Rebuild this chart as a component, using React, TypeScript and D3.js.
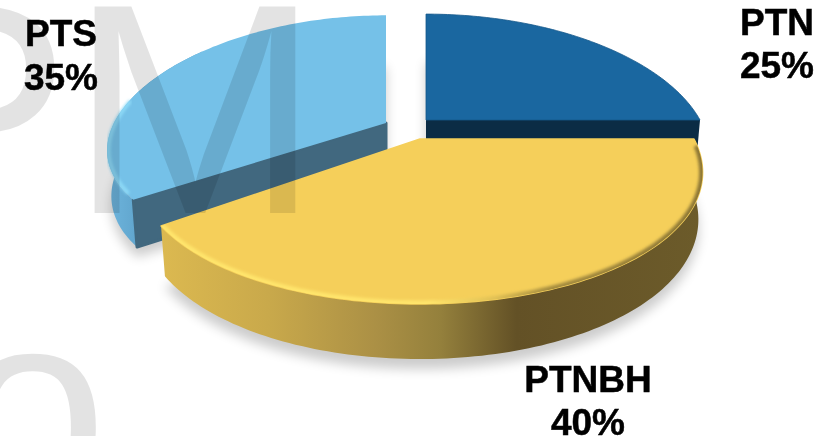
import React from "react";
import * as d3 from "d3";

const categories = ["PTN", "PTNBH", "PTS"];
const shares = [25, 40, 35];
const tickLabels = ["25%", "40%", "35%"];

const W = 831, H = 436;
const DEPTH = 45, BOTTOM_SCALE = 0.985;
const apexes: Record<string, [number, number]> = {
  PTN: [426, 120],
  PTNBH: [420, 139],
  PTS: [386, 123],
};
const persp: Record<string, [number, number, number, number]> = {
  PTN: [0.26, 0.218, 129, 274],
  PTNBH: [0.245, 0.218, 129, 274],
  PTS: [0.22, 0.124, 121, 272],
};
const topFill: Record<string, string> = { PTN: "#1a67a0", PTNBH: "#f5cf5a", PTS: "#75c1e8" };
const cutFill: Record<string, string> = { PTN: "#0b2c45", PTNBH: "#a98e45", PTS: "#41687f" };
const labelPos: Record<string, [number, number, number]> = {
  PTN: [777, 35, 78],
  PTNBH: [588, 392, 435],
  PTS: [61, 46, 90],
};

type Pt = [number, number];
const project = (name: string, a: number, r: number, level: number): Pt => {
  const [ax, ay] = apexes[name];
  const [px, py, ry, rx] = persp[name];
  const u = r * Math.sin(a), v = -r * Math.cos(a);
  const wx = 1 - px * v, wy = 1 - py * v;
  const s = level ? BOTTOM_SCALE : 1;
  return [ax + (rx * s * u) / wx, ay + (ry * s * v) / wy + (level * DEPTH) / wy];
};

const line = d3.line<Pt>().x((d) => d[0]).y((d) => d[1]);
const angles = (a0: number, a1: number) => {
  const n = Math.max(2, Math.ceil(Math.abs(a1 - a0) / 0.02));
  return d3.range(n + 1).map((i) => a0 + ((a1 - a0) * i) / n);
};
const arcPts = (name: string, a0: number, a1: number, level: number, r = 1) =>
  angles(a0, a1).map((a) => project(name, a, r, level));

const pieGen = d3.pie<number>().sort(null);
const arcs = pieGen(shares);
const slices = categories.map((name, i) => ({
  name,
  a0: arcs[i].startAngle,
  a1: arcs[i].endAngle,
  label: tickLabels[i],
}));
const sector = (name: string, a0: number, a1: number, level: number) =>
  line([project(name, 0, 0, level), ...arcPts(name, a0, a1, level)]) + "Z";
const band = (name: string, a0: number, a1: number) =>
  line([...arcPts(name, a0, a1, 0), ...arcPts(name, a0, a1, 1).reverse()]) + "Z";
const cut = (name: string, a: number) =>
  line([
    project(name, 0, 0, 0),
    project(name, a, 1, 0),
    project(name, a, 1, 1),
    project(name, 0, 0, 1),
  ]) + "Z";

export default function App() {
  const [blue, yellow, sky] = slices;
  const skyRimEnd = Math.PI * 1.72;
  const skyGlowEnd = Math.PI * 1.56;
  return (
    <svg
      width={W}
      height={H}
      viewBox={`0 0 ${W} ${H}`}
      style={{ position: "absolute", left: 0, top: 0, background: "#fff" }}
      fontFamily="'Liberation Sans', Arial, sans-serif"
    >
      <defs>
        <filter id="sh" x="-20%" y="-20%" width="140%" height="140%">
          <feGaussianBlur stdDeviation="6" />
        </filter>
        <filter id="b15" x="-5%" y="-5%" width="110%" height="110%">
          <feGaussianBlur stdDeviation="1.8" />
        </filter>
        <filter id="lbl" x="-5%" y="-5%" width="110%" height="110%">
          <feGaussianBlur stdDeviation="0.35" />
        </filter>
        <clipPath id="yClip">
          <path d={sector(yellow.name, yellow.a0, yellow.a1, 0)} stroke="none" />
        </clipPath>
        <linearGradient id="ySide" gradientUnits="userSpaceOnUse" x1="160" x2="700" y1="0" y2="0">
          <stop offset="0" stopColor="#dcb950" />
          <stop offset="0.2" stopColor="#c9a94b" />
          <stop offset="0.4" stopColor="#ab9045" />
          <stop offset="0.52" stopColor="#94803c" />
          <stop offset="0.66" stopColor="#635126" />
          <stop offset="1" stopColor="#6c5b2a" />
        </linearGradient>
        <linearGradient id="yRim" gradientUnits="userSpaceOnUse" x1="160" x2="700" y1="0" y2="0">
          <stop offset="0" stopColor="#ffe56c" />
          <stop offset="0.5" stopColor="#ffe56c" />
          <stop offset="0.62" stopColor="#e0c054" />
          <stop offset="0.72" stopColor="#a58c3e" />
          <stop offset="1" stopColor="#8c7634" />
        </linearGradient>
        <linearGradient id="sSide" gradientUnits="userSpaceOnUse" x1="105" x2="150" y1="0" y2="0">
          <stop offset="0" stopColor="#6fb6de" />
          <stop offset="1" stopColor="#5b9fc7" />
        </linearGradient>
      </defs>

      {/* soft ground shadows */}
      <g filter="url(#sh)" fill="#000" opacity={0.2} transform="translate(0,10)">
        {slices.map((s) => (
          <path key={s.name} d={sector(s.name, s.a0, s.a1, 1)} />
        ))}
      </g>

      {/* PTN */}
      <path d={cut(blue.name, blue.a1)} fill={cutFill.PTN} />
      <path d={sector(blue.name, blue.a0, blue.a1, 0)} fill={topFill.PTN} stroke="#15588a" strokeWidth={0.8} />

      {/* PTS */}
      <path d={band(sky.name, sky.a0, skyRimEnd)} fill="url(#sSide)" />
      <path
        d={cut(sky.name, sky.a0)}
        fill={cutFill.PTS}
        stroke={cutFill.PTS}
        strokeWidth={3}
        strokeLinejoin="round"
      />
      <path d={sector(sky.name, sky.a0, sky.a1, 0)} fill={topFill.PTS} />
      <path
        d={line(arcPts(sky.name, sky.a0 + 0.05, skyGlowEnd, 0, 0.995)) ?? ""}
        fill="none"
        stroke="#8fdcf8"
        strokeWidth={3.5}
        filter="url(#b15)"
      />

      {/* PTNBH */}
      <path d={band(yellow.name, yellow.a0, yellow.a1)} fill="url(#ySide)" />
      <path
        d={sector(yellow.name, yellow.a0, yellow.a1, 0)}
        fill={topFill.PTNBH}
        stroke={topFill.PTNBH}
        strokeWidth={1.5}
        strokeLinejoin="round"
      />
      <g clipPath="url(#yClip)">
        <path
          d={line(arcPts(yellow.name, yellow.a0 + 0.05, yellow.a1 + 0.02, 0, 1)) ?? ""}
          fill="none"
          stroke="url(#yRim)"
          strokeWidth={7}
          filter="url(#b15)"
        />
      </g>

      {/* watermark letters */}
      <g fill="#000" fillOpacity={0.11} fontSize={300}>
        <text x={-130} y={213}>P</text>
        <text x={70} y={213}>M</text>
        <text x={-43} y={499} fontSize={270}>o</text>
      </g>

      {/* labels */}
      <g
        fontWeight="bold"
        fontSize={37}
        textAnchor="middle"
        fill="#000"
        stroke="#000"
        strokeWidth={0.5}
        filter="url(#lbl)"
      >
        {slices.map((s) => {
          const [x, y1, y2] = labelPos[s.name];
          return (
            <text key={s.name} x={x}>
              <tspan x={x} y={y1}>{s.name}</tspan>
              <tspan x={x} y={y2}>{s.label}</tspan>
            </text>
          );
        })}
      </g>
    </svg>
  );
}
